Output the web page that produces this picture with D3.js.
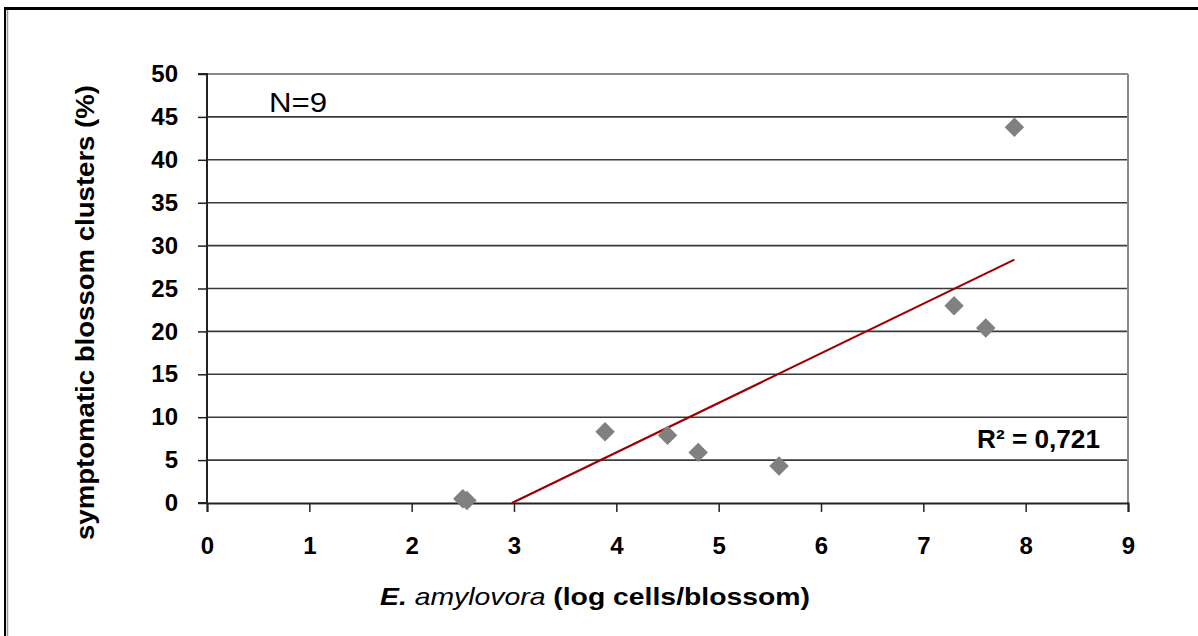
<!DOCTYPE html>
<html><head><meta charset="utf-8">
<script src="https://cdn.jsdelivr.net/npm/d3@7"></script>
<style>
html,body{margin:0;padding:0;background:#fff;}
svg{display:block;font-family:"Liberation Sans",Arial,sans-serif;}
</style></head>
<body>
<svg id="c" width="1198" height="636"></svg>
<script>
// Data
const xValues = [2.50, 2.54, 3.89, 4.50, 4.80, 5.59, 7.30, 7.61, 7.89];
const yValues = [0.5, 0.3, 8.3, 7.9, 5.9, 4.3, 23.0, 20.4, 43.8];
const xTicks = [0,1,2,3,4,5,6,7,8,9];
const yTicks = [0,5,10,15,20,25,30,35,40,45,50];
const nLabel = "N=9";
const r2Label = "R\u00B2 = 0,721";

(function(){
const svg = d3.select("#c");
const pL = 207, pR = 1128, pT = 74, pB = 503;
const x = d3.scaleLinear().domain([0,9]).range([pL,pR]);
const y = d3.scaleLinear().domain([0,50]).range([pB,pT]);

// outer frame
svg.append("line").attr("x1",4).attr("x2",1198).attr("y1",8.5).attr("y2",8.5).attr("stroke","#000").attr("stroke-width",3);
svg.append("line").attr("x1",5).attr("x2",5).attr("y1",7).attr("y2",636).attr("stroke","#000").attr("stroke-width",2);
svg.append("line").attr("x1",7.5).attr("x2",7.5).attr("y1",10).attr("y2",636).attr("stroke","#999").attr("stroke-width",1.5);

// gridlines
svg.append("g").selectAll("line").data(yTicks.filter(d=>d>0 && d<50)).join("line")
  .attr("x1",pL).attr("x2",pR).attr("y1",d=>y(d)).attr("y2",d=>y(d))
  .attr("stroke","#3a3a3a").attr("stroke-width",1.6);
// plot border top & right
svg.append("line").attr("x1",pL).attr("x2",pR).attr("y1",y(50)).attr("y2",y(50)).attr("stroke","#8a8a8a").attr("stroke-width",2);
svg.append("line").attr("x1",pR).attr("x2",pR).attr("y1",pT).attr("y2",pB).attr("stroke","#8a8a8a").attr("stroke-width",2);

// axes
const yAxis = d3.axisLeft(y).tickValues(yTicks).tickSize(9).tickPadding(20);
const gy = svg.append("g").attr("transform",`translate(${pL},0)`).call(yAxis);
const xAxis = d3.axisBottom(x).tickValues(xTicks).tickSize(9).tickPadding(25);
const gx = svg.append("g").attr("transform",`translate(0,${pB})`).call(xAxis);
[gx,gy].forEach(g=>{
  g.select(".domain").attr("stroke","#222").attr("stroke-width",2);
  g.selectAll(".tick line").attr("stroke","#222").attr("stroke-width",1.5);
  g.selectAll(".tick text").attr("fill","#000").style("font-size","24px").style("font-weight","bold")
   .style("font-family","'Liberation Sans',Arial,sans-serif");
});
gx.selectAll(".tick text").attr("dy","0.71em");
gy.select(".domain").attr("d",`M-9,${pB}H0V${pT}H-9`);

// trendline (least squares), clipped at y=0
const n = xValues.length;
const mx = d3.mean(xValues), my = d3.mean(yValues);
let sxy=0,sxx=0;
for(let i=0;i<n;i++){sxy+=(xValues[i]-mx)*(yValues[i]-my);sxx+=(xValues[i]-mx)**2;}
const slope = sxy/sxx, icpt = my - slope*mx;
const x0 = Math.max(d3.min(xValues), -icpt/slope), x1 = d3.max(xValues);
svg.append("line").attr("x1",x(x0)).attr("y1",y(slope*x0+icpt)).attr("x2",x(x1)).attr("y2",y(slope*x1+icpt))
  .attr("stroke","#9c0000").attr("stroke-width",2.2);

// points
const sym = d3.symbol().type(d3.symbolSquare).size(190);
svg.append("g").selectAll("path").data(xValues.map((v,i)=>[v,yValues[i]])).join("path")
  .attr("d",sym).attr("transform",d=>`translate(${x(d[0])},${y(d[1])}) rotate(45)`)
  .attr("fill","#808080");

// labels
svg.append("text").attr("x",269).attr("y",112).style("font-size","28px").attr("fill","#000")
  .attr("textLength",58).attr("lengthAdjust","spacingAndGlyphs").text(nLabel);
svg.append("text").attr("x",977).attr("y",448).style("font-size","25px").style("font-weight","bold")
  .attr("textLength",123).attr("lengthAdjust","spacingAndGlyphs").text(r2Label);

const xl = svg.append("text").attr("x",380).attr("y",605).style("font-size","24px").style("font-weight","bold")
  .attr("textLength",430).attr("lengthAdjust","spacingAndGlyphs");
xl.append("tspan").style("font-style","italic").text("E.");
xl.append("tspan").style("font-style","italic").style("font-weight","normal").text(" amylovora");
xl.append("tspan").text(" (log cells/blossom)");

svg.append("text").attr("transform","translate(94,540) rotate(-90)")
  .style("font-size","26px").style("font-weight","bold")
  .attr("textLength",455).attr("lengthAdjust","spacingAndGlyphs").text("symptomatic blossom clusters (%)");
})();
</script>
</body></html>
